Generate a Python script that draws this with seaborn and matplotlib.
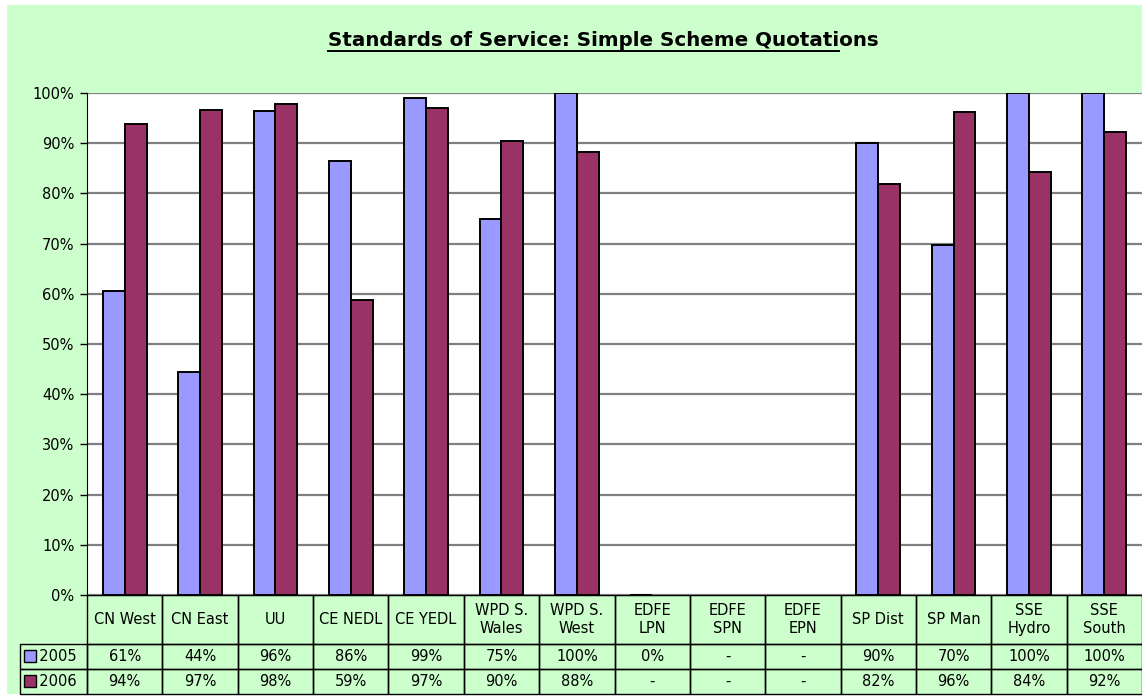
import numpy as np
import pandas as pd
import matplotlib
matplotlib.use("Agg")
import matplotlib.pyplot as plt
import seaborn as sns
from matplotlib.patches import Rectangle
from matplotlib.lines import Line2D

# Chart data (percent)
regions = ["CN West", "CN East", "UU", "CE NEDL", "CE YEDL", "WPD S.\nWales",
           "WPD S.\nWest", "EDFE\nLPN", "EDFE\nSPN", "EDFE\nEPN", "SP Dist",
           "SP Man", "SSE\nHydro", "SSE\nSouth"]
years = ["2005", "2006"]
vals_2005 = [60.6, 44.4, 96.5, 86.4, 99.0, 75.0, 100.0, 0.0, np.nan, np.nan,
             90.1, 69.7, 100.0, 100.0]
vals_2006 = [93.9, 96.7, 97.9, 58.8, 97.1, 90.4, 88.2, np.nan, np.nan, np.nan,
             81.9, 96.3, 84.2, 92.2]
colors = {"2005": "#9999FF", "2006": "#993366"}
green = "#CCFFCC"

df = pd.DataFrame({"region": regions * 2,
                   "year": ["2005"] * len(regions) + ["2006"] * len(regions),
                   "pct": vals_2005 + vals_2006})
df["frac"] = df["pct"] / 100


def fmt(v):
    return "-" if np.isnan(v) else f"{v:.0f}%"


plt.rcParams["font.family"] = ["DejaVu Sans"]

fig = plt.figure(figsize=(11.42, 6.99), dpi=100)
fig.patches.append(Rectangle((7 / 1142, 5 / 699), 1, 689 / 699,
                             transform=fig.transFigure, facecolor=green,
                             edgecolor="none", zorder=-10))
ax = fig.add_axes([87 / 1142, 104 / 699, 1055 / 1142, 502 / 699])
ax.set_facecolor("white")

sns.barplot(data=df, x="region", y="frac", hue="year", order=regions,
            hue_order=years, palette=colors, saturation=1, errorbar=None,
            width=0.58, edgecolor="black", linewidth=1.4, legend=False, ax=ax)

ax.set_ylim(0, 1)
ax.set_xlim(-0.5, len(regions) - 0.5)
ax.set_yticks(np.arange(0, 1.01, 0.1))
ax.set_yticklabels([f"{int(round(t * 100))}%" for t in np.arange(0, 1.01, 0.1)],
                   fontsize=10.5)
ax.set_xticks([])
ax.set_xlabel("")
ax.set_ylabel("")
ax.yaxis.grid(True, color="#808080", linewidth=1.6)
ax.set_axisbelow(True)
ax.tick_params(axis="y", length=5, width=1, color="black", pad=4)
for s in ["top", "right"]:
    ax.spines[s].set_visible(False)
ax.spines["left"].set_color("black")
ax.spines["bottom"].set_color("black")

# data table under the plot; first column holds the year labels
cell_text = [["  " + years[0]] + [fmt(v) for v in vals_2005],
             ["  " + years[1]] + [fmt(v) for v in vals_2006]]
col_w = 1055 / len(regions)
tbl = ax.table(cellText=cell_text, colLabels=[""] + regions,
               colWidths=[67] + [col_w] * len(regions),
               cellLoc="center", colLoc="center",
               bbox=[-67 / 1055, -99 / 502, 1 + 67 / 1055, 99 / 502])
tbl.auto_set_font_size(False)
tbl.set_fontsize(10.5)
for (r, c), cell in tbl.get_celld().items():
    cell.set_facecolor("none")
    cell.set_edgecolor("black")
    cell.set_linewidth(1)
    cell.set_height(49 if r == 0 else 25)
    if r == 0 and c == 0:
        cell.visible_edges = ""

# legend keys in the table row labels
for i, yr in enumerate(years):
    ax.plot([-57 / 1055], [-(61 + 25 * i) / 502], marker="s", markersize=9,
            markerfacecolor=colors[yr], markeredgecolor="black",
            markeredgewidth=1, transform=ax.transAxes, clip_on=False)

title = "Standards of Service: Simple Scheme Quotations"
t = fig.text(603 / 1142, 1 - 40 / 699, title, ha="center", va="center",
             fontsize=14.3, fontweight="bold")

# underline (stops early, like the original)
fig.canvas.draw()
r = fig.canvas.get_renderer()
bb = t.get_window_extent(r)
tmp = fig.text(0, 0, "Standards of Service: Simple Scheme Quotati",
               fontsize=14.3, fontweight="bold")
w = tmp.get_window_extent(r).width
tmp.remove()
y_ul = bb.y0 - 1
fig.lines.append(Line2D([bb.x0 / 1142, (bb.x0 + w) / 1142],
                        [y_ul / 699, y_ul / 699], transform=fig.transFigure,
                        color="black", linewidth=1.4))

fig.savefig("out.png", dpi=100, facecolor="white")
